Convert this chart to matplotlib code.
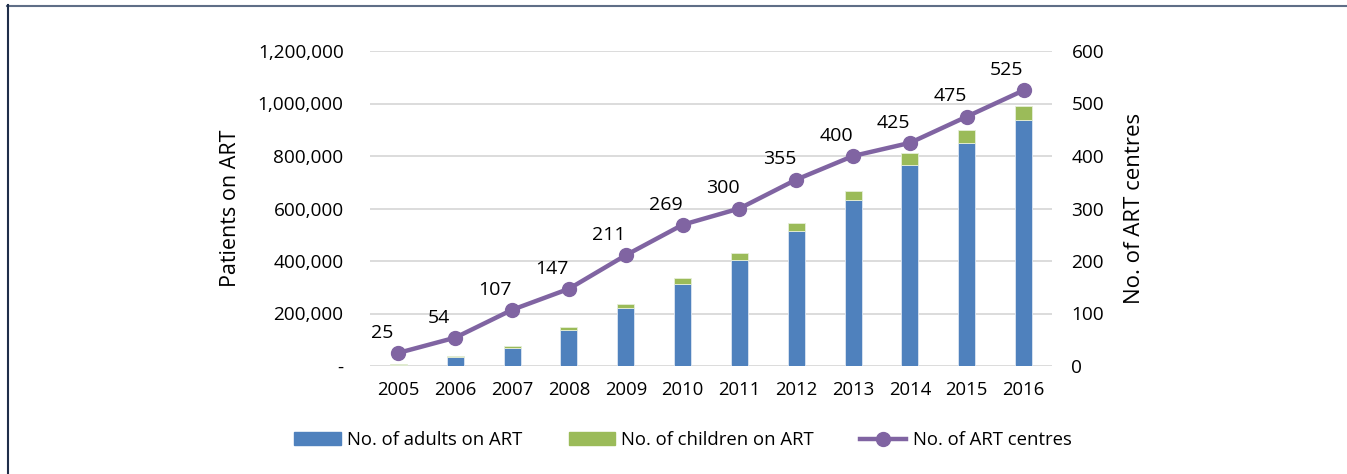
import matplotlib.pyplot as plt
from matplotlib.lines import Line2D
from matplotlib.ticker import FuncFormatter
import numpy as np

plt.rcParams['font.family'] = ['Open Sans', 'DejaVu Sans']

# valeurs
years = ["2005", "2006", "2007", "2008", "2009", "2010", "2011", "2012",
         "2013", "2014", "2015", "2016"]
adults = [5000, 36000, 69000, 138000, 221000, 313000, 405000, 515000,
          631000, 767000, 851000, 938000]
children = [1000, 3000, 7000, 11000, 15000, 22000, 24000, 31000,
            36000, 43000, 48000, 54000]
centres = [25, 54, 107, 147, 211, 269, 300, 355, 400, 425, 475, 525]

BLUE = "#4F81BD"
GREEN = "#9BBB59"
PURPLE = "#8064A2"

fig = plt.figure(figsize=(13.47, 4.74), dpi=100)
ax = fig.add_axes([370 / 1347, 108 / 474, 682 / 1347, 315 / 474])

x = np.arange(len(years))
ax.bar(x, adults, width=0.3, color=BLUE, edgecolor="#dce6f2", linewidth=0.6,
       label="No. of adults on ART", zorder=2)
ax.bar(x, children, width=0.3, bottom=adults, color=GREEN, edgecolor="#e6eed8",
       linewidth=0.6, label="No. of children on ART", zorder=2)

ax.set_xlim(-0.5, len(years) - 0.5)
ax.set_ylim(0, 1200000)
ax.set_yticks(np.arange(0, 1200001, 200000))
ax.yaxis.set_major_formatter(FuncFormatter(lambda v, p: "-" if v == 0 else f"{int(v):,}"))
ax.set_xticks(x)
ax.set_xticklabels(years)
ax.grid(axis="y", color="#d9d9d9", linewidth=1.3, zorder=0)
ax.set_axisbelow(True)
for s in ax.spines.values():
    s.set_visible(False)
ax.tick_params(axis="y", length=0, pad=19, labelsize=13.7, colors="#000000")
ax.tick_params(axis="x", length=0, pad=11, labelsize=13.3)
ax.set_ylabel("Patients on ART", fontsize=15.5, labelpad=12)

ax2 = ax.twinx()
ax2.plot(x, centres, color=PURPLE, linewidth=3.2, marker="o", markersize=10,
         label="No. of ART centres", zorder=3)
ax2.set_ylim(0, 600)
ax2.set_yticks(np.arange(0, 601, 100))
for s in ax2.spines.values():
    s.set_visible(False)
ax2.tick_params(axis="y", length=0, pad=14, labelsize=13.7)
ax2.set_ylabel("No. of ART centres", fontsize=16, labelpad=14)

for xi, c in zip(x, centres):
    ax2.annotate(str(c), (xi, c), xytext=(-12, 14.5), textcoords="offset points",
                 ha="center", va="center", fontsize=14)

handles = [plt.Rectangle((0, 0), 1, 1, color=BLUE),
           plt.Rectangle((0, 0), 1, 1, color=GREEN),
           Line2D([], [], color=PURPLE, linewidth=3.2, marker="o", markersize=10)]
labels = ["No. of adults on ART", "No. of children on ART", "No. of ART centres"]
fig.legend(handles, labels, loc="center", bbox_to_anchor=(683 / 1347, 34 / 474),
           ncol=3, frameon=False, fontsize=13.3, handlelength=2.5,
           handletextpad=0.35, columnspacing=2.5)

# cadre partiel (haut et gauche)
fig.add_artist(Line2D([7 / 1347, 1], [1 - 5.5 / 474, 1 - 5.5 / 474],
                      transform=fig.transFigure, color="#5f6e87", linewidth=1.5))
fig.add_artist(Line2D([7.5 / 1347, 7.5 / 1347], [0, 1 - 5 / 474],
                      transform=fig.transFigure, color="#1f2e4a", linewidth=1.5))

fig.savefig("out.png", dpi=100)
